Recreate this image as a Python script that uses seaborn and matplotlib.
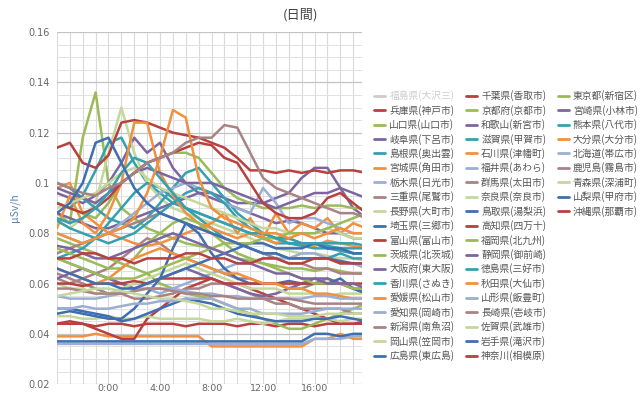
import numpy as np
import pandas as pd
import matplotlib
matplotlib.use("Agg")
import matplotlib.pyplot as plt
import seaborn as sns
from matplotlib.lines import Line2D
from matplotlib.ticker import MultipleLocator, FuncFormatter

# --- data: hourly readings in 0.001 uSv/h, from 20:00 (-4) to 20:00 (+20) ---
hours = list(range(-4, 21))
tick_hours = [0, 4, 8, 12, 16]
tick_labels = ["0:00", "4:00", "8:00", "12:00", "16:00"]

hyogo = [44, 44, 44, 43, 44, 44, 43, 44, 44, 44, 43, 44, 44, 44, 43, 44, 44, 43, 44, 44, 43, 44, 44, 44, 44]
yamaguchi = [88, 84, 118, 136, 100, 90, 86, 82, 80, 78, 76, 75, 74, 72, 70, 69, 68, 67, 66, 66, 65, 66, 65, 64, 64]
gifu = [96, 94, 92, 95, 100, 108, 118, 112, 116, 106, 100, 96, 94, 92, 90, 88, 86, 84, 85, 84, 82, 80, 80, 78, 78]
shimane = [92, 90, 95, 105, 116, 118, 108, 100, 96, 92, 90, 88, 86, 84, 82, 80, 78, 76, 76, 75, 74, 74, 73, 72, 72]
miyagi = [39, 39, 39, 40, 39, 39, 39, 39, 39, 39, 39, 39, 35, 35, 35, 35, 35, 35, 35, 35, 38, 38, 40, 38, 38]
tochigi = [36, 36, 36, 36, 36, 36, 36, 36, 36, 36, 36, 36, 36, 36, 36, 36, 36, 36, 36, 36, 38, 38, 38, 39, 39]
mie = [62, 60, 62, 64, 66, 70, 74, 78, 76, 72, 70, 68, 66, 64, 62, 62, 60, 60, 58, 58, 60, 62, 60, 58, 58]
nagano = [85, 82, 86, 92, 112, 130, 112, 100, 94, 90, 88, 86, 84, 82, 80, 78, 76, 74, 73, 72, 72, 71, 70, 70, 69]
saitama = [37, 37, 37, 37, 37, 37, 37, 37, 37, 37, 37, 37, 37, 37, 37, 37, 37, 37, 37, 37, 40, 40, 39, 40, 40]
toyama = [44, 45, 44, 42, 40, 38, 38, 46, 50, 54, 58, 60, 62, 60, 60, 58, 56, 54, 52, 50, 48, 46, 44, 44, 45]
ibaraki = [78, 76, 74, 72, 70, 68, 66, 64, 60, 58, 56, 55, 54, 52, 50, 48, 46, 44, 42, 42, 44, 46, 48, 50, 52]
osaka = [88, 86, 84, 82, 82, 84, 86, 88, 90, 92, 94, 96, 96, 94, 92, 92, 92, 94, 96, 102, 106, 106, 98, 90, 86]
kagawa = [70, 72, 74, 78, 84, 90, 96, 100, 98, 94, 90, 86, 82, 78, 76, 74, 72, 72, 70, 70, 70, 70, 72, 70, 70]
ehime = [98, 100, 88, 84, 80, 78, 76, 75, 76, 78, 80, 82, 84, 88, 80, 86, 78, 88, 80, 84, 82, 86, 80, 84, 82]
aichi = [70, 68, 66, 64, 62, 60, 58, 58, 56, 58, 60, 62, 64, 66, 68, 68, 70, 70, 70, 72, 72, 70, 68, 68, 66]
niigata = [64, 62, 60, 58, 56, 56, 54, 54, 55, 56, 58, 58, 60, 60, 58, 56, 54, 52, 52, 50, 50, 50, 50, 48, 48]
okayama = [47, 47, 46, 46, 47, 46, 46, 47, 46, 46, 46, 46, 45, 45, 46, 45, 44, 45, 46, 46, 46, 46, 45, 46, 46]
hiroshima = [50, 50, 49, 48, 47, 45, 46, 48, 50, 52, 54, 53, 52, 50, 48, 47, 46, 45, 45, 45, 46, 46, 47, 46, 45]
chiba = [114, 116, 108, 106, 111, 124, 125, 124, 122, 120, 119, 118, 116, 114, 110, 105, 105, 104, 105, 104, 105, 104, 105, 105, 104]
kyoto = [92, 90, 88, 86, 92, 100, 104, 108, 110, 112, 112, 110, 104, 98, 94, 92, 90, 90, 90, 91, 90, 91, 91, 90, 90]
wakayama = [62, 64, 66, 64, 62, 60, 58, 60, 62, 64, 66, 64, 62, 60, 58, 56, 55, 56, 58, 60, 62, 62, 60, 58, 56]
shiga = [100, 98, 94, 90, 86, 84, 82, 86, 92, 98, 104, 106, 100, 94, 88, 84, 80, 78, 76, 76, 76, 74, 74, 72, 72]
ishikawa = [82, 95, 84, 80, 88, 100, 124, 124, 104, 95, 88, 84, 82, 80, 78, 80, 78, 76, 78, 76, 75, 77, 76, 75, 74]
fukui = [80, 78, 76, 78, 80, 84, 88, 92, 96, 98, 100, 98, 96, 92, 90, 88, 98, 92, 84, 86, 86, 84, 82, 80, 80]
gunma = [72, 74, 76, 78, 80, 82, 84, 86, 88, 86, 84, 82, 80, 78, 76, 74, 72, 70, 68, 68, 66, 66, 64, 64, 64]
nara = [60, 58, 58, 56, 56, 58, 60, 62, 64, 66, 68, 66, 64, 62, 60, 58, 58, 58, 56, 56, 56, 55, 56, 56, 56]
tottori = [48, 49, 48, 47, 46, 46, 50, 56, 62, 74, 84, 80, 72, 66, 62, 60, 60, 60, 61, 60, 60, 60, 62, 58, 56]
kochi = [60, 60, 59, 60, 60, 60, 61, 60, 62, 62, 62, 62, 62, 60, 60, 60, 60, 60, 60, 60, 60, 60, 60, 60, 60]
fukuoka = [74, 72, 70, 68, 66, 66, 70, 76, 80, 84, 86, 84, 80, 76, 72, 70, 68, 66, 64, 62, 60, 60, 60, 58, 58]
shizuoka = [98, 96, 94, 92, 96, 100, 104, 106, 104, 102, 100, 100, 100, 98, 96, 94, 92, 90, 92, 94, 96, 96, 98, 96, 94]
tokushima = [85, 82, 80, 78, 76, 78, 80, 84, 88, 92, 96, 98, 96, 92, 86, 82, 80, 78, 76, 76, 76, 75, 74, 74, 74]
akita = [66, 64, 62, 60, 62, 66, 70, 72, 74, 72, 70, 68, 66, 64, 64, 62, 60, 60, 58, 58, 56, 56, 55, 54, 54]
yamagata = [55, 54, 54, 54, 55, 56, 57, 58, 58, 58, 57, 56, 56, 55, 55, 54, 54, 54, 54, 54, 55, 55, 54, 54, 54]
nagasaki = [58, 58, 57, 56, 56, 56, 57, 58, 58, 57, 56, 56, 55, 55, 54, 54, 54, 54, 54, 53, 52, 52, 52, 52, 52]
saga = [90, 92, 94, 96, 100, 104, 106, 102, 98, 96, 94, 92, 90, 88, 86, 84, 82, 82, 80, 80, 80, 82, 80, 78, 78]
iwate = [66, 64, 62, 60, 60, 58, 58, 60, 62, 64, 66, 68, 70, 72, 74, 76, 76, 74, 74, 74, 76, 74, 74, 72, 72]
kanagawa = [92, 90, 88, 90, 94, 100, 104, 108, 110, 112, 114, 116, 115, 110, 108, 100, 92, 88, 86, 86, 88, 94, 96, 92, 88]
tokyo = [70, 68, 66, 64, 62, 62, 62, 64, 66, 68, 70, 72, 74, 76, 76, 76, 78, 78, 80, 80, 80, 82, 84, 86, 88]
miyazaki = [75, 74, 72, 70, 70, 72, 74, 76, 78, 80, 78, 76, 74, 72, 70, 68, 66, 64, 64, 62, 62, 60, 60, 60, 58]
kumamoto = [86, 84, 86, 90, 96, 104, 110, 108, 102, 96, 90, 88, 86, 84, 82, 80, 80, 78, 78, 76, 76, 76, 76, 76, 75]
oita = [80, 78, 76, 78, 80, 82, 86, 96, 110, 129, 126, 102, 90, 86, 84, 82, 80, 80, 78, 80, 78, 80, 82, 80, 80]
hokkaido = [50, 50, 51, 50, 50, 51, 52, 52, 53, 53, 54, 54, 54, 52, 50, 50, 48, 48, 48, 48, 49, 50, 50, 50, 50]
kagoshima = [100, 98, 96, 95, 98, 100, 104, 108, 110, 112, 116, 118, 118, 123, 122, 112, 102, 98, 96, 94, 92, 90, 88, 88, 86]
aomori = [55, 56, 57, 58, 58, 57, 56, 55, 54, 54, 53, 52, 50, 50, 49, 48, 48, 48, 47, 47, 47, 48, 48, 48, 48]
yamanashi = [88, 92, 100, 116, 118, 108, 98, 92, 88, 86, 84, 82, 80, 78, 76, 74, 72, 72, 70, 70, 70, 70, 69, 68, 68]
okinawa = [70, 70, 72, 72, 70, 70, 68, 70, 70, 70, 72, 72, 70, 70, 68, 68, 70, 70, 68, 68, 70, 70, 68, 68, 68]

# legend order (column by column); the first one is switched off in the original
hidden_name = "福島県(大沢三)"
series = [
    ("兵庫県(神戸市)", hyogo), ("山口県(山口市)", yamaguchi), ("岐阜県(下呂市)", gifu),
    ("島根県(奥出雲)", shimane), ("宮城県(角田市)", miyagi), ("栃木県(日光市)", tochigi),
    ("三重県(尾鷲市)", mie), ("長野県(大町市)", nagano), ("埼玉県(三郷市)", saitama),
    ("富山県(富山市)", toyama), ("茨城県(北茨城)", ibaraki), ("大阪府(東大阪)", osaka),
    ("香川県(さぬき)", kagawa), ("愛媛県(松山市)", ehime), ("愛知県(岡崎市)", aichi),
    ("新潟県(南魚沼)", niigata), ("岡山県(笠岡市)", okayama), ("広島県(東広島)", hiroshima),
    ("千葉県(香取市)", chiba), ("京都府(京都市)", kyoto), ("和歌山(新宮市)", wakayama),
    ("滋賀県(甲賀市)", shiga), ("石川県(津幡町)", ishikawa), ("福井県(あわら)", fukui),
    ("群馬県(太田市)", gunma), ("奈良県(奈良市)", nara), ("鳥取県(湯梨浜)", tottori),
    ("高知県(四万十)", kochi), ("福岡県(北九州)", fukuoka), ("静岡県(御前崎)", shizuoka),
    ("徳島県(三好市)", tokushima), ("秋田県(大仙市)", akita), ("山形県(飯豊町)", yamagata),
    ("長崎県(壱岐市)", nagasaki), ("佐賀県(武雄市)", saga), ("岩手県(滝沢市)", iwate),
    ("神奈川(相模原)", kanagawa), ("東京都(新宿区)", tokyo), ("宮崎県(小林市)", miyazaki),
    ("熊本県(八代市)", kumamoto), ("大分県(大分市)", oita), ("北海道(帯広市)", hokkaido),
    ("鹿児島(霧島市)", kagoshima), ("青森県(深浦町)", aomori), ("山梨県(甲府市)", yamanashi),
    ("沖縄県(那覇市)", okinawa),
]

color_cycle = ["#3f6fb0", "#b8413f", "#9bbb59", "#7d66a0", "#35a0b0",
               "#f0913f", "#9caed3", "#a98383", "#c4d79c"]

# --- build long-form table ---
rows = []
for name, vals in series:
    assert len(vals) == len(hours), name
    for h, v in zip(hours, vals):
        rows.append((h, v / 1000.0, name))
df = pd.DataFrame(rows, columns=["hour", "usvh", "site"])

all_names = [hidden_name] + [n for n, _ in series]
palette = {n: color_cycle[i % 9] for i, n in enumerate(all_names)}

# --- plot ---
sns.set_style("white")
plt.rcParams["font.family"] = ["Noto Sans CJK JP", "DejaVu Sans"]

fig = plt.figure(figsize=(6.4, 3.96), dpi=100)
ax = fig.add_axes([0.089, 0.030, 0.477, 0.889])

sns.lineplot(data=df, x="hour", y="usvh", hue="site",
             hue_order=[n for n, _ in series], palette=palette,
             linewidth=1.8, legend=False, ax=ax)

ax.set_xlim(-4, 19.7)
ax.set_ylim(0.02, 0.16)
ax.xaxis.set_minor_locator(MultipleLocator(1))
ax.set_xticks(tick_hours)
ax.set_xticklabels(tick_labels)
ax.yaxis.set_major_locator(MultipleLocator(0.02))
ax.yaxis.set_minor_locator(MultipleLocator(0.005))
ax.yaxis.set_major_formatter(FuncFormatter(lambda v, p: f"{v:g}"))

ax.grid(which="major", axis="y", color="#c4c4c4", linewidth=0.9)
ax.grid(which="minor", axis="y", color="#e2e2e2", linewidth=0.7)
ax.grid(which="both", axis="x", color="#dadada", linewidth=0.8)
ax.set_axisbelow(True)
for s in ax.spines.values():
    s.set_visible(False)
ax.tick_params(axis="y", which="both", length=0, labelsize=7, labelcolor="#666666", pad=5)
ax.tick_params(axis="x", which="both", length=0, labelsize=6.8, labelcolor="#666666", pad=0)
for lab in ax.get_xticklabels() + ax.get_yticklabels():
    lab.set_fontfamily("DejaVu Sans")

ax.set_xlabel("")
ax.set_ylabel("μSv/h", fontsize=7.5, color="#5b82b4", labelpad=6)
fig.text(0.469, 0.962, "(日間)", ha="center", va="center", fontsize=9.5, color="#444444")

# legend: 3 columns of 19 slots, last column partly empty
handles, labels = [], []
for n in all_names:
    c = "#cccccc" if n == hidden_name else palette[n]
    handles.append(Line2D([], [], color=c, linewidth=2))
    labels.append(n)
while len(handles) < 57:
    handles.append(Line2D([], [], linewidth=0, alpha=0))
    labels.append("")

leg = fig.legend(handles, labels, ncol=3, loc="upper left",
                 bbox_to_anchor=(0.585, 0.772), frameon=False,
                 fontsize=7, handlelength=1.1, handletextpad=0.45,
                 columnspacing=1.2, labelspacing=0.36, borderpad=0, borderaxespad=0)
for t in leg.get_texts():
    t.set_color("#cccccc" if t.get_text() == hidden_name else "#555555")

fig.savefig("out.png", dpi=100)
